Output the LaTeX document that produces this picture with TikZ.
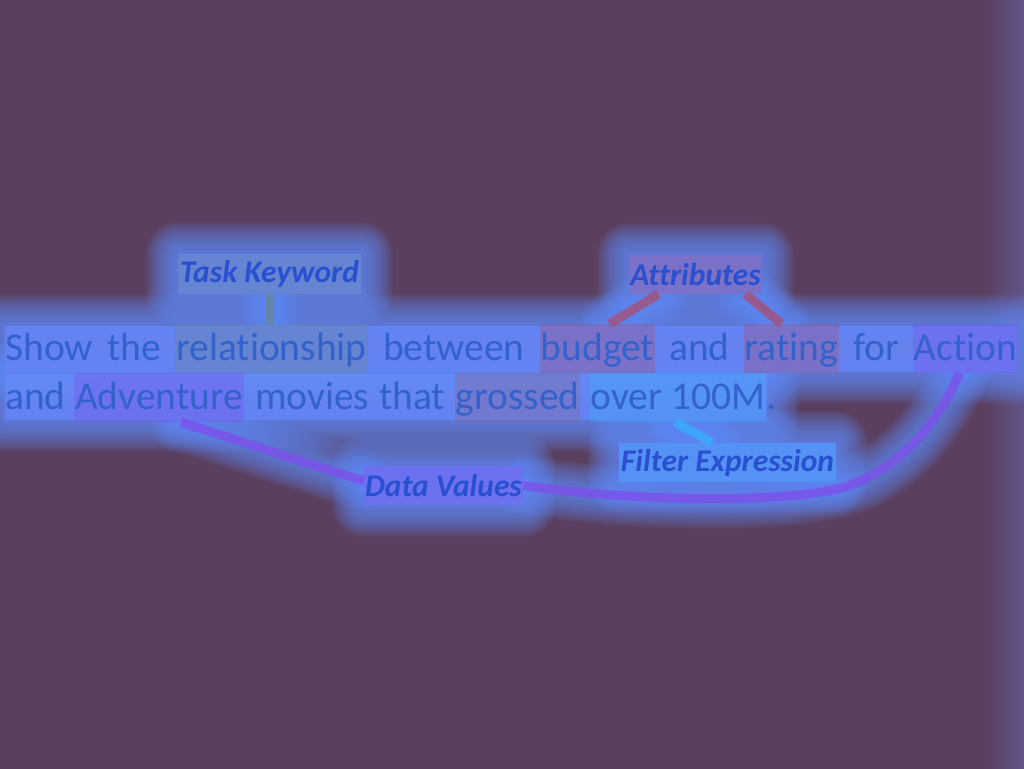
\documentclass[tikz,border=0pt]{standalone}
\usepackage{fontspec}
\setmainfont{Carlito}[Ligatures=NoCommon]
\usetikzlibrary{calc}
\definecolor{bgc}{RGB}{90,63,94}
\definecolor{edgec}{RGB}{98,86,140}
\definecolor{glowc}{RGB}{102,142,254}
\definecolor{txtc}{RGB}{52,98,205}
\definecolor{lblc}{RGB}{40,80,208}
\definecolor{taskc}{RGB}{105,135,150}
\definecolor{attrc}{RGB}{165,80,120}
\definecolor{grosc}{RGB}{140,100,140}
\definecolor{datac}{RGB}{125,80,235}
\definecolor{filtc}{RGB}{55,175,250}
\pgfdeclarelayer{back}
\pgfdeclarelayer{glow}
\pgfdeclarelayer{links}
\pgfsetlayers{back,glow,links,main}
\newcommand\glowbox[1]{%
  \fill[glowc, opacity=0.85] #1;
  \foreach \w in {4,8,...,64}{\draw[glowc, line width=\w pt, opacity=0.085, line join=round] #1;}}
\newcommand\glowline[1]{%
  \foreach \w in {8,12,...,60}{\draw[glowc, line width=\w pt, opacity=0.085, line cap=round, line join=round] #1;}}
\tikzset{
  wd/.style={inner sep=0pt, font=\fontsize{39.5}{42}\selectfont, text=txtc, anchor=base west},
  hl/.style={inner xsep=0pt, inner ysep=1pt, text height=35pt, text depth=12pt,
    font=\fontsize{39.5}{42}\selectfont, text=txtc, anchor=base, fill opacity=0.35, text opacity=1},
  lbl/.style={inner xsep=0pt, inner ysep=0pt, minimum height=39pt,
    font=\fontsize{31.5}{34}\selectfont\bfseries\itshape, text=lblc, fill opacity=0.35, text opacity=1},
  conn/.style={line width=9pt, draw opacity=0.8}
}
\begin{document}
\begin{tikzpicture}[x=1pt,y=-1pt]
\useasboundingbox (0,0) rectangle (1024,768);
\begin{pgfonlayer}{back}
\fill[bgc] (-2,-2) rectangle (1026,770);
\shade[left color=bgc, right color=edgec] (985,-2) rectangle (1026,770);
\end{pgfonlayer}
% line 1
\node[wd] (w1) at (5,360) {Show};
\node[wd] (w2) at (107,360) {the};
\node[hl, fill=taskc, minimum width=193pt] (rel) at (271.5,360) {relationship};
\node[wd] (w3) at (383,360) {between};
\node[hl, fill=attrc, minimum width=115pt] (bud) at (597.5,360) {budget};
\node[wd] (w4) at (669,360) {and};
\node[hl, fill=attrc, minimum width=95pt] (rat) at (791.5,360) {rating};
\node[wd] (w5) at (853,360) {for};
\node[hl, fill=datac, minimum width=105pt] (act) at (965.5,360) {Action};
% line 2
\node[wd] (w6) at (5,409) {and};
\node[hl, fill=datac, minimum width=170pt] (adv) at (159,409) {Adventure};
\node[wd] (w7) at (255,409) {movies};
\node[wd] (w8) at (379,409) {that};
\node[hl, fill=grosc, minimum width=125pt] (gro) at (517.5,409) {grossed};
\node[hl, fill=filtc, minimum width=176pt] (ovr) at (678,409) {over 100M};
\node[wd] (w9) at (766,409) {.};
% labels
\node[lbl, fill=taskc, minimum width=183pt] (tk) at (269.5,274) {Task Keyword};
\node[lbl, fill=attrc, minimum width=133pt] (attr) at (695.5,274.5) {Attributes};
\node[lbl, fill=filtc, minimum width=217pt] (filt) at (727.5,462.5) {Filter Expression};
\node[lbl, fill=datac, minimum width=159pt] (dv) at (443.5,485.5) {Data Values};
% glow
\begin{pgfonlayer}{glow}
\glowbox{(5,326) rectangle (1017,372)}
\glowbox{(5,374) rectangle (767,420)}
\glowbox{(tk.south west) rectangle (tk.north east)}
\glowbox{(attr.south west) rectangle (attr.north east)}
\glowbox{(filt.south west) rectangle (filt.north east)}
\glowbox{(dv.south west) rectangle (dv.north east)}
\glowline{(tk.south) -- (tk.south |- rel.north)}
\glowline{($(attr.south)+(-37,0)$) -- ($(bud.north)+(12,0)$)}
\glowline{($(attr.south)+(50,0)$) -- ($(rat.north)+(-10,0)$)}
\glowline{($(ovr.south)+(-3,0)$) -- ($(filt.north)+(-15,0)$)}
\glowline{($(adv.south)+(22,0)$) .. controls (250,444) and (310,465) .. ($(dv.west)+(0,-5)$)}
\glowline{($(act.south)+(-6,0)$) .. controls (935,430) and (895,470) .. (845,487) .. controls (780,505) and (620,500) .. (dv.east)}
\end{pgfonlayer}
% connectors
\begin{pgfonlayer}{links}
\draw[conn, draw=taskc] (tk.south) -- (tk.south |- rel.north);
\draw[conn, draw=attrc] ($(attr.south)+(-37,0)$) -- ($(bud.north)+(12,0)$);
\draw[conn, draw=attrc] ($(attr.south)+(50,0)$) -- ($(rat.north)+(-10,0)$);
\draw[conn, draw=filtc] ($(ovr.south)+(-3,0)$) -- ($(filt.north)+(-15,0)$);
\draw[conn, draw=datac] ($(adv.south)+(22,0)$) .. controls (250,444) and (310,465) .. ($(dv.west)+(0,-5)$);
\draw[conn, draw=datac] ($(act.south)+(-6,0)$) .. controls (935,430) and (895,470) .. (845,487) .. controls (780,505) and (620,500) .. (dv.east);
\end{pgfonlayer}
\end{tikzpicture}
\end{document}
